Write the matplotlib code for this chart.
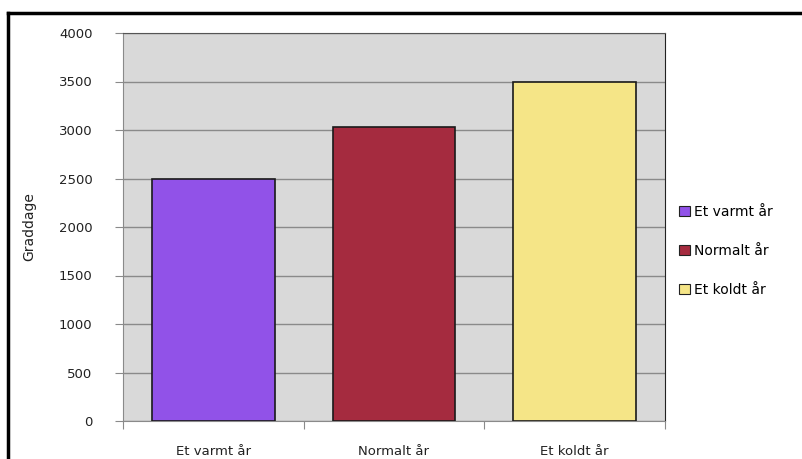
import numpy as np
import matplotlib.pyplot as plt
from matplotlib.lines import Line2D
from matplotlib.patches import Patch

# data
categories = ['Et varmt år', 'Normalt år', 'Et koldt år']
values = [2500, 3030, 3500]
colors = ['#9152e8', '#a52b3f', '#f5e587']
yticks = [0, 500, 1000, 1500, 2000, 2500, 3000, 3500, 4000]

fig = plt.figure(figsize=(8.02, 4.59), dpi=100)
ax = fig.add_axes([123/802, 1-421/459, (665-123)/802, (421-33)/459])
ax.set_facecolor('#d9d9d9')

x = np.arange(len(categories))
ax.bar(x, values, width=0.68, color=colors, edgecolor='#1a1a1a', linewidth=1.2, zorder=3)

ax.set_ylim(0, 4000)
ax.set_xlim(-0.5, 2.5)
ax.set_yticks(yticks)
ax.set_yticklabels([str(t) for t in yticks], fontsize=9.5, color='#222222')
ax.yaxis.grid(True, color='#8a8a8a', linewidth=1)
ax.set_axisbelow(True)

# category ticks sit between bars
ax.set_xticks([-0.5, 0.5, 1.5, 2.5])
ax.set_xticklabels([])
ax.set_xticks(x, minor=True)
ax.set_xticklabels(categories, minor=True, fontsize=9.5, color='#222222')
ax.tick_params(axis='x', which='minor', length=0, pad=17)
ax.tick_params(axis='x', which='major', length=6, color='#8a8a8a', direction='out')
ax.tick_params(axis='y', length=6, color='#8a8a8a', pad=16)

for s in ['left', 'bottom']:
    ax.spines[s].set_color('#8a8a8a')
ax.spines['top'].set_color('#555555')
ax.spines['right'].set_color('#222222')

ax.set_ylabel('Graddage', fontsize=10, color='#222222', labelpad=16)

handles = [Patch(facecolor=c, edgecolor='#222222', linewidth=0.8) for c in colors]
fig.legend(handles, categories, loc='center left', bbox_to_anchor=(672/802, 1-251/459),
           frameon=False, fontsize=10, handlelength=0.8, handleheight=0.8,
           handletextpad=0.3, labelspacing=1.8, borderpad=0)

# outer frame (top and left edges visible)
fig.add_artist(Line2D([8/802, 8/802], [0, 1-13/459], color='black', linewidth=2.5, transform=fig.transFigure))
fig.add_artist(Line2D([8/802, 1], [1-13/459, 1-13/459], color='black', linewidth=2.5, transform=fig.transFigure))

fig.savefig('out.png', dpi=100)
